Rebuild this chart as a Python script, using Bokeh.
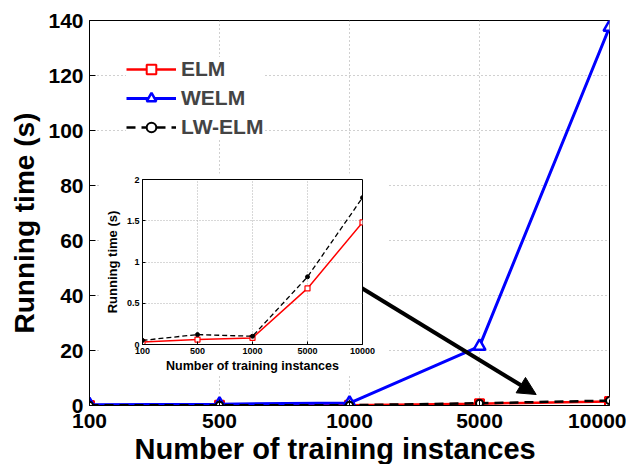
from bokeh.plotting import figure
from bokeh.models import (Range1d, FixedTicker, Legend, LegendItem, Arrow, NormalHead,
                          BoxAnnotation, NumeralTickFormatter, Title)
from bokeh.layouts import column
from bokeh.embed import file_html
from bokeh.resources import INLINE

# ---------------- data ----------------
categories = ["100", "500", "1000", "5000", "10000"]
elm = [0.03, 0.06, 0.08, 0.68, 1.48]
welm = [0.3, 0.5, 0.9, 21.5, 137.5]
lw_elm = [0.05, 0.12, 0.10, 0.82, 1.78]
main_y_ticks = [0, 20, 40, 60, 80, 100, 120, 140]
inset_y_ticks = [0, 0.5, 1, 1.5, 2]

xs = list(range(len(categories)))
x_labels = {i: c for i, c in enumerate(categories)}
FONT = "Liberation Sans"

# ---------------- main figure ----------------
p = figure(width=626, height=464, x_range=Range1d(0, len(categories) - 1),
           y_range=Range1d(0, 140), output_backend="svg", toolbar_location=None,
           min_border_left=88, min_border_right=17, min_border_top=20, min_border_bottom=54)
p.background_fill_color = "white"
p.border_fill_color = "white"
p.outline_line_color = "black"
p.outline_line_width = 1

for ax in (p.xaxis[0], p.yaxis[0]):
    ax.major_tick_in = 6
    ax.major_tick_out = 0
    ax.minor_tick_line_color = None
    ax.axis_line_color = "black"
    ax.major_label_text_font = FONT
    ax.major_label_text_font_style = "bold"
    ax.major_label_text_font_size = "21px"
    ax.major_label_text_color = "black"

p.xaxis.ticker = FixedTicker(ticks=xs)
p.xaxis.major_label_overrides = x_labels
p.xaxis.major_label_standoff = 8
p.yaxis.ticker = FixedTicker(ticks=main_y_ticks)
p.yaxis.major_label_standoff = 6

# axis titles, placed slightly off-centre as in the reference
p.add_layout(Title(text="Number of training instances", align="left", offset=45,
                   text_font=FONT, text_font_style="bold", text_font_size="29px",
                   text_color="black", standoff=0), "below")
p.add_layout(Title(text="Running time (s)", align="left", offset=72,
                   text_font=FONT, text_font_style="bold", text_font_size="28px",
                   text_color="black", standoff=12), "left")

p.grid.grid_line_color = "#a0a0a0"
p.grid.grid_line_dash = "1 3"
p.grid.grid_line_width = 1
p.xgrid.ticker = FixedTicker(ticks=xs)
p.ygrid.ticker = FixedTicker(ticks=main_y_ticks)

# white backdrop behind the inset (hides main grid lines there)
backdrop = BoxAnnotation(left=100, right=388, top=173, bottom=375,
                         left_units="canvas", right_units="canvas",
                         top_units="canvas", bottom_units="canvas",
                         fill_color="white", fill_alpha=1.0, line_color=None,
                         level="underlay")
p.add_layout(backdrop)

r_elm_l = p.line(xs, elm, line_color="red", line_width=2.5)
r_elm_m = p.scatter(xs, elm, marker="square", size=9, line_color="red", line_width=2,
                    fill_color="white")
r_welm_l = p.line(xs, welm, line_color="#0000ff", line_width=3)
r_welm_m = p.scatter(xs, welm, marker="triangle", size=12, line_color="#0000ff",
                     line_width=2.5, fill_color="white")
r_lw_l = p.line(xs, lw_elm, line_color="black", line_width=2.5, line_dash="9 6")
r_lw_m = p.scatter(xs, lw_elm, marker="circle", size=7, line_color="black", line_width=2,
                   fill_color="white")

legend = Legend(items=[
    LegendItem(label="ELM", renderers=[r_elm_l, r_elm_m]),
    LegendItem(label="WELM", renderers=[r_welm_l, r_welm_m]),
    LegendItem(label="LW-ELM", renderers=[r_lw_l, r_lw_m]),
], location="top_left")
legend.margin = 37
legend.padding = 10
legend.spacing = 5
legend.glyph_width = 50
legend.glyph_height = 24
legend.label_height = 24
legend.label_standoff = 5
legend.label_text_font = FONT
legend.label_text_font_style = "bold"
legend.label_text_font_size = "21px"
legend.border_line_color = None
legend.background_fill_color = "white"
legend.background_fill_alpha = 1.0
p.add_layout(legend)

arrow = Arrow(x_start=2.09, y_start=42.8, x_end=3.436, y_end=4.0,
              line_color="black", line_width=4,
              end=NormalHead(size=18, fill_color="black", line_color="black"))
p.add_layout(arrow)

# ---------------- inset figure ----------------
q = figure(width=276, height=202, x_range=Range1d(0, len(categories) - 1),
           y_range=Range1d(0, 2), output_backend="svg", toolbar_location=None,
           min_border_left=40, min_border_right=15, min_border_top=6, min_border_bottom=30)
q.border_fill_color = None
q.background_fill_color = "white"
q.outline_line_color = "black"
q.outline_line_width = 1
q.margin = (-291, 0, 0, 101)
for fig in (p, q):
    try:
        fig.frame_align = False
    except Exception:
        pass

for ax in (q.xaxis[0], q.yaxis[0]):
    ax.major_tick_in = 3
    ax.major_tick_out = 0
    ax.minor_tick_line_color = None
    ax.axis_line_color = "black"
    ax.major_label_text_font = FONT
    ax.major_label_text_font_style = "bold"
    ax.major_label_text_font_size = "9px"
    ax.major_label_text_color = "black"
    ax.axis_label_text_font = FONT
    ax.axis_label_text_font_style = "bold"
    ax.axis_label_text_color = "black"
    ax.major_label_standoff = 3

q.xaxis.ticker = FixedTicker(ticks=xs)
q.xaxis.major_label_overrides = x_labels
q.xaxis.axis_label = "Number of training instances"
q.xaxis.axis_label_text_font_size = "12.5px"
q.xaxis.axis_label_standoff = 2
q.yaxis.ticker = FixedTicker(ticks=inset_y_ticks)
q.yaxis.formatter = NumeralTickFormatter(format="0.[0]")
q.yaxis.axis_label = "Running time (s)"
q.yaxis.axis_label_text_font_size = "13px"
q.yaxis.axis_label_standoff = 4

q.grid.grid_line_color = "#b0b0b0"
q.grid.grid_line_dash = "1 2"
q.xgrid.ticker = FixedTicker(ticks=xs)
q.ygrid.ticker = FixedTicker(ticks=inset_y_ticks)

q.line(xs, elm, line_color="red", line_width=1.5)
q.scatter(xs, elm, marker="square", size=5, line_color="red", line_width=1.2,
          fill_color="white")
q.line(xs, lw_elm, line_color="black", line_width=1.3, line_dash="5 3")
q.scatter(xs, lw_elm, marker="circle", size=4, line_color="black", fill_color="black")

layout = column(p, q)
open("out.html", "w").write(file_html(layout, INLINE))
